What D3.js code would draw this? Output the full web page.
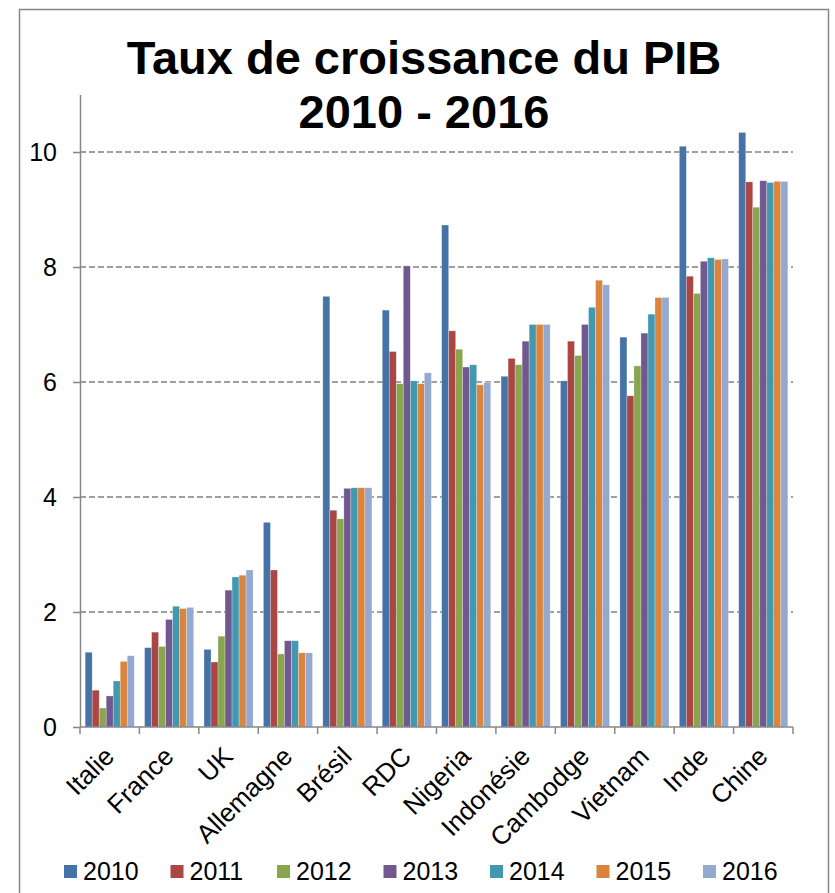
<!DOCTYPE html>
<meta charset="utf-8">
<style>
body { margin: 0; background: #fff; }
svg { display: block; font-family: "Liberation Sans", Arial, sans-serif; }
.grid line { stroke: #808080; stroke-width: 1.4; stroke-dasharray: 6,3; }
.axis path, .axis line { stroke: #878787; stroke-width: 1.5; }
</style>
<svg width="835" height="893"></svg>
<script src="https://d3js.org/d3.v7.min.js"></script>
<script>

var countries = ["Italie", "France", "UK", "Allemagne", "Brésil", "RDC", "Nigeria", "Indonésie", "Cambodge", "Vietnam", "Inde", "Chine"];
var years = ["2010", "2011", "2012", "2013", "2014", "2015", "2016"];
var colors = ["#4572A7", "#AA4643", "#89A54E", "#71588F", "#4198AF", "#DB843D", "#93A9CF"];

// growth rates per year, one value per country (same order as countries)
var v2010 = [1.30, 1.38, 1.35, 3.56, 7.49, 7.25, 8.73, 6.10, 6.02, 6.78, 10.10, 10.34];
var v2011 = [0.64, 1.65, 1.13, 2.73, 3.77, 6.53, 6.89, 6.41, 6.71, 5.76, 7.84, 9.48];
var v2012 = [0.33, 1.40, 1.58, 1.27, 3.62, 5.97, 6.57, 6.30, 6.46, 6.28, 7.54, 9.04];
var v2013 = [0.54, 1.87, 2.38, 1.50, 4.15, 8.02, 6.26, 6.71, 7.00, 6.85, 8.10, 9.50];
var v2014 = [0.80, 2.10, 2.61, 1.50, 4.16, 6.02, 6.30, 7.00, 7.30, 7.18, 8.16, 9.47];
var v2015 = [1.14, 2.06, 2.64, 1.29, 4.16, 5.97, 5.95, 7.00, 7.77, 7.47, 8.13, 9.49];
var v2016 = [1.24, 2.08, 2.73, 1.29, 4.16, 6.16, 5.99, 7.00, 7.69, 7.47, 8.14, 9.49];
var yTicks = [0, 2, 4, 6, 8, 10];

var series = [v2010, v2011, v2012, v2013, v2014, v2015, v2016];

var svg = d3.select("svg");

// chart frame
svg.append("rect")
    .attr("x", 19.5).attr("y", 9.5)
    .attr("width", 809).attr("height", 900)
    .attr("fill", "none")
    .attr("stroke", "#878787")
    .attr("stroke-width", 1.5);

var plotLeft = 80, plotRight = 793, plotTop = 94.5, plotBottom = 727;

var x0 = d3.scaleBand().domain(countries).range([plotLeft, plotRight]);
var x1 = d3.scaleBand().domain(years).range([0, x0.bandwidth()]).paddingOuter(0.735);
var y = d3.scaleLinear().domain([0, 11]).range([plotBottom, plotTop]);
var color = d3.scaleOrdinal().domain(years).range(colors);

// gridlines
svg.append("g").attr("class", "grid")
  .selectAll("line")
    .data(yTicks.filter(function(d) { return d > 0; }))
  .enter().append("line")
    .attr("x1", plotLeft).attr("x2", plotRight)
    .attr("y1", function(d) { return y(d); })
    .attr("y2", function(d) { return y(d); });

// bars
var rows = [];
countries.forEach(function(c, i) {
  years.forEach(function(yr, j) {
    rows.push({country: c, year: yr, value: series[j][i]});
  });
});

svg.append("g")
  .selectAll("rect")
    .data(rows)
  .enter().append("rect")
    .attr("x", function(d) { return x0(d.country) + x1(d.year); })
    .attr("y", function(d) { return y(d.value); })
    .attr("width", x1.bandwidth())
    .attr("height", function(d) { return y(0) - y(d.value); })
    .attr("fill", function(d) { return color(d.year); })
    .attr("stroke", "#fff")
    .attr("stroke-opacity", 0.45)
    .attr("stroke-width", 0.6);

// y axis
var yAxis = svg.append("g").attr("class", "axis")
    .attr("transform", "translate(" + plotLeft + ",0)")
    .call(d3.axisLeft(y).tickValues(yTicks).tickSize(7).tickSizeOuter(0).tickPadding(16));
yAxis.selectAll("text")
    .attr("font-size", 25)
    .attr("font-family", "Liberation Sans, Arial, sans-serif")
    .attr("fill", "#000");

// x axis
var xAxis = svg.append("g").attr("class", "axis")
    .attr("transform", "translate(0," + plotBottom + ")");
xAxis.append("line")
    .attr("x1", plotLeft).attr("x2", plotRight);
xAxis.selectAll(".tk")
    .data(d3.range(countries.length + 1))
  .enter().append("line")
    .attr("class", "tk")
    .attr("x1", function(i) { return plotLeft + i * x0.step(); })
    .attr("x2", function(i) { return plotLeft + i * x0.step(); })
    .attr("y1", 0).attr("y2", 7);

svg.append("g")
  .selectAll("text")
    .data(countries)
  .enter().append("text")
    .attr("transform", function(d) {
      return "translate(" + (x0(d) + x0.bandwidth() / 2 + 6) + ",758) rotate(-45)";
    })
    .attr("text-anchor", "end")
    .attr("font-size", 26)
    .text(function(d) { return d; });

// title
var title = svg.append("text")
    .attr("x", 424)
    .attr("text-anchor", "middle")
    .attr("font-size", 47)
    .attr("font-weight", "bold");
title.append("tspan").attr("x", 424).attr("y", 74).text("Taux de croissance du PIB");
title.append("tspan").attr("x", 424).attr("y", 128).text("2010 - 2016");

// legend
var legend = svg.append("g")
  .selectAll("g")
    .data(years)
  .enter().append("g")
    .attr("transform", function(d, i) { return "translate(" + (64 + i * 106.5) + ",0)"; });
legend.append("rect")
    .attr("y", 865)
    .attr("width", 13).attr("height", 13)
    .attr("fill", function(d) { return color(d); });
legend.append("text")
    .attr("x", 19).attr("y", 880)
    .attr("font-size", 25)
    .text(function(d) { return d; });

</script>
